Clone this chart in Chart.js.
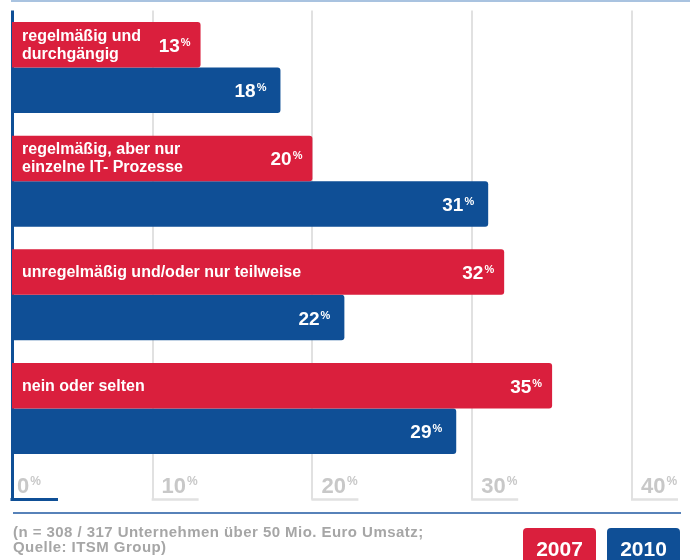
<!DOCTYPE html>
<html>
<head>
<meta charset="utf-8">
<script src="https://cdn.jsdelivr.net/npm/chart.js@4/dist/chart.umd.min.js"></script>
<style>
  html, body { margin: 0; padding: 0; background: #ffffff; }
  #wrap { width: 690px; height: 560px; position: relative; }
</style>
</head>
<body>
<div id="wrap"><canvas id="c" width="690" height="560"></canvas></div>
<script>
// ---- data ----
const categories = [
  ["regelmäßig und", "durchgängig"],
  ["regelmäßig, aber nur", "einzelne IT- Prozesse"],
  ["unregelmäßig und/oder nur teilweise"],
  ["nein oder selten"]
];
const seriesLabels = ["2007", "2010"];
const values2007 = [13, 20, 32, 35];
const values2010 = [18, 31, 22, 29];
const tickLabels = ["0", "10", "20", "30", "40"];
const footnoteLines = [
  "(n = 308 / 317 Unternehmen über 50 Mio. Euro Umsatz;",
  "Quelle: ITSM Group)"
];

// ---- styles ----
const RED = "#da1f3d";
const BLUE = "#0f4f96";
const GRID = "#e1e1e1";
const TICK_TEXT = "#c8c8c8";
const FONT = "'Liberation Sans', Arial, Helvetica, sans-serif";

function drawValueWithPercent(ctx, text, rightX, baseY, bigSize, smallSize, supRise, color) {
  ctx.save();
  ctx.fillStyle = color;
  ctx.textBaseline = "alphabetic";
  ctx.textAlign = "left";
  ctx.font = "bold " + smallSize + "px " + FONT;
  const pw = ctx.measureText("%").width;
  ctx.font = "bold " + bigSize + "px " + FONT;
  const nw = ctx.measureText(text).width;
  const startX = rightX - pw - nw - 1;
  ctx.fillText(text, startX, baseY);
  ctx.font = "bold " + smallSize + "px " + FONT;
  ctx.fillText("%", startX + nw + 1, baseY - supRise);
  ctx.restore();
}

const decorPlugin = {
  id: "decor",
  afterDraw(chart) {
    const ctx = chart.ctx;
    const area = chart.chartArea;
    const xs = chart.scales.x;

    // top thin line
    ctx.save();
    ctx.strokeStyle = "#a9c3e0";
    ctx.lineWidth = 2;
    ctx.beginPath();
    ctx.moveTo(11, 1);
    ctx.lineTo(690, 1);
    ctx.stroke();
    ctx.restore();

    // category labels inside red bars
    const metaRed = chart.getDatasetMeta(0);
    ctx.save();
    ctx.fillStyle = "#ffffff";
    ctx.font = "bold 16px " + FONT;
    ctx.textAlign = "left";
    ctx.textBaseline = "alphabetic";
    categories.forEach((lines, i) => {
      const bar = metaRed.data[i];
      const n = lines.length;
      lines.forEach((ln, k) => {
        ctx.fillText(ln, area.left + 10, bar.y + 5 + (k - (n - 1) / 2) * 18);
      });
    });
    ctx.restore();

    // value labels
    chart.data.datasets.forEach((ds, di) => {
      const meta = chart.getDatasetMeta(di);
      const pad = di === 0 ? 10 : 14;
      meta.data.forEach((bar, i) => {
        drawValueWithPercent(ctx, String(ds.data[i]), bar.x - pad, bar.y + 7, 19, 11, 6, "#ffffff");
      });
    });

    // axis tick labels and feet
    const footY = area.bottom + 34;
    xs.ticks.forEach((t, i) => {
      const px = xs.getPixelForTick(i);
      ctx.save();
      ctx.strokeStyle = i === 0 ? BLUE : GRID;
      ctx.lineWidth = i === 0 ? 3 : 2.5;
      ctx.beginPath();
      ctx.moveTo(px - (i === 0 ? 1.5 : 1), footY);
      ctx.lineTo(px + 46, footY);
      ctx.stroke();
      ctx.restore();
      ctx.save();
      ctx.fillStyle = TICK_TEXT;
      ctx.font = "bold 22px " + FONT;
      const label = tickLabels[i];
      const lx = px + (i === 0 ? 5 : 9);
      ctx.fillText(label, lx, 493);
      const w = ctx.measureText(label).width;
      ctx.font = "bold 12px " + FONT;
      ctx.fillText("%", lx + w + 1, 485);
      ctx.restore();
    });

    // bottom separator line
    ctx.save();
    ctx.strokeStyle = "#1f58a2";
    ctx.lineWidth = 1.5;
    ctx.beginPath();
    ctx.moveTo(13, 513);
    ctx.lineTo(681, 513);
    ctx.stroke();
    ctx.restore();

    // footnote
    ctx.save();
    ctx.fillStyle = "#a6a6a6";
    ctx.font = "bold 15px " + FONT;
    ctx.textAlign = "left";
    if ("letterSpacing" in ctx) ctx.letterSpacing = "0.45px";
    footnoteLines.forEach((ln, k) => ctx.fillText(ln, 13, 537 + k * 15));
    ctx.restore();

    // legend boxes
    const boxes = [{ x: 523, w: 73 }, { x: 607, w: 73 }];
    chart.data.datasets.forEach((ds, di) => {
      const b = boxes[di];
      ctx.save();
      ctx.fillStyle = ds.backgroundColor;
      ctx.beginPath();
      ctx.roundRect(b.x, 528, b.w, 40, 4);
      ctx.fill();
      ctx.fillStyle = "#ffffff";
      ctx.font = "bold 21px " + FONT;
      ctx.textAlign = "center";
      ctx.fillText(ds.label, b.x + b.w / 2, 556);
      ctx.restore();
    });
  }
};

new Chart(document.getElementById("c"), {
  type: "bar",
  data: {
    labels: categories,
    datasets: [
      { label: seriesLabels[0], data: values2007, backgroundColor: RED, borderRadius: 3 },
      { label: seriesLabels[1], data: values2010, backgroundColor: BLUE, borderRadius: 3 }
    ]
  },
  options: {
    indexAxis: "y",
    responsive: false,
    animation: false,
    devicePixelRatio: 1,
    layout: { padding: { left: 12, right: 58, top: 10.6, bottom: 60.6 } },
    datasets: { bar: { categoryPercentage: 0.8, barPercentage: 1.0 } },
    plugins: { legend: { display: false }, tooltip: { enabled: false } },
    scales: {
      x: {
        min: 1.2,
        max: 40,
        ticks: { display: false, stepSize: 10 },
        border: { display: false },
        grid: {
          drawTicks: true,
          tickLength: 34,
          color: (c) => (c.index === 0 ? BLUE : GRID),
          lineWidth: (c) => (c.index === 0 ? 3 : 2)
        }
      },
      y: { display: false }
    }
  },
  plugins: [decorPlugin]
});
</script>
</body>
</html>
